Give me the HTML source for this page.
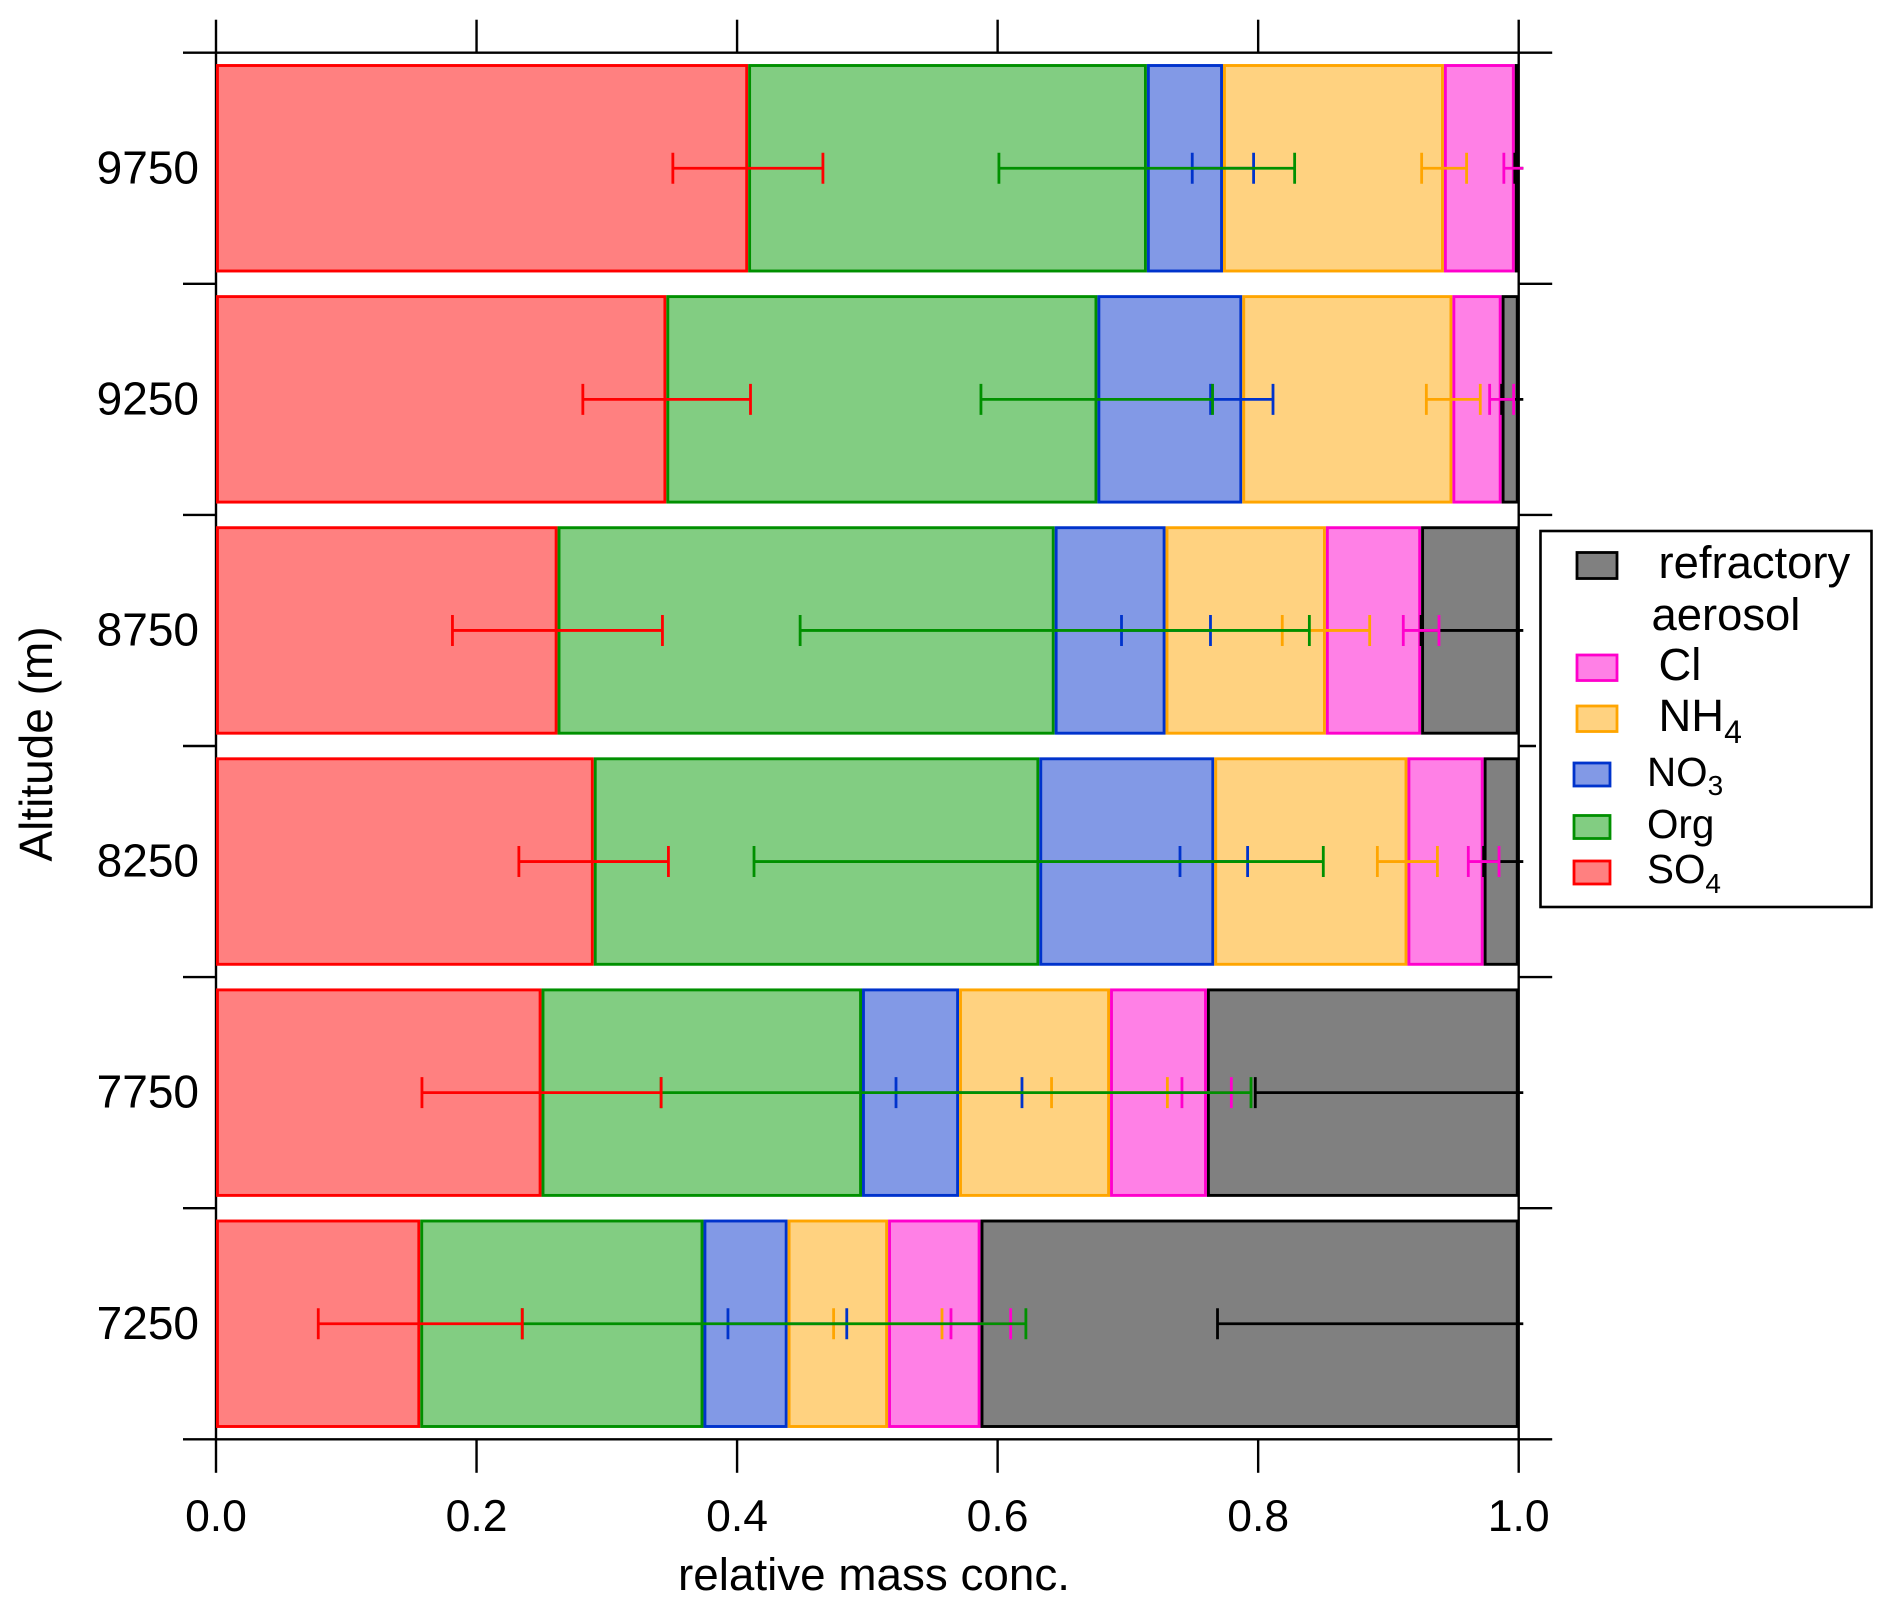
<!DOCTYPE html>
<html lang="en">
<head>
<meta charset="utf-8">
<title>Relative mass concentration by altitude</title>
<style>
html,body{margin:0;padding:0;background:#fff;}
svg{display:block;font-family:"Liberation Sans",Arial,sans-serif;fill:#000;}
text{fill:#000;}
</style>
</head>
<body>
<svg id="chart" xmlns="http://www.w3.org/2000/svg" width="1892" height="1610" viewBox="0 0 1892 1610">
  <defs>
    <clipPath id="plot-clip"><rect x="150" y="0" width="1373.3" height="1610"></rect></clipPath>
  </defs>
  <rect x="0" y="0" width="1892" height="1610" fill="#ffffff"></rect>
  <g id="axes"></g>
  <g id="bars"></g>
  <g id="errors" clip-path="url(#plot-clip)"></g>
  <g id="labels"></g>
  <text x="874" y="1590" font-size="45.8" text-anchor="middle">relative mass conc.</text>
  <text transform="translate(52 744) rotate(-90)" font-size="46" text-anchor="middle">Altitude (m)</text>

  <g>
    <rect x="1536" y="527" width="340" height="384" fill="#ffffff"></rect>
    <rect x="1540.5" y="531" width="331" height="376" fill="#ffffff" stroke="#000" stroke-width="2.6"></rect>
    <g>
      <rect x="1577" y="552.5" width="40" height="26" fill="#808080" stroke="#000" stroke-width="2.8"></rect>
      <text x="1658.5" y="578" font-size="45.4">refractory</text>
      <text x="1651.5" y="630" font-size="45.4">aerosol</text>
    </g>
    <g>
      <rect x="1577" y="655" width="40" height="25.5" fill="#ff80e6" stroke="#ff00cc" stroke-width="2.8"></rect>
      <text x="1658.5" y="680" font-size="45.4">Cl</text>
    </g>
    <g>
      <rect x="1577" y="706" width="40" height="25.5" fill="#ffd280" stroke="#ffa500" stroke-width="2.8"></rect>
      <text x="1658.5" y="731" font-size="45.4">NH<tspan font-size="32" dy="12">4</tspan></text>
    </g>
    <g>
      <rect x="1574" y="763" width="36" height="23" fill="#8299e6" stroke="#0033cc" stroke-width="2.8"></rect>
      <text x="1647" y="786" font-size="40.4">NO<tspan font-size="28" dy="9">3</tspan></text>
    </g>
    <g>
      <rect x="1574" y="815.5" width="36" height="23" fill="#82cd82" stroke="#009000" stroke-width="2.8"></rect>
      <text x="1647" y="838" font-size="40.4">Org</text>
    </g>
    <g>
      <rect x="1574" y="861" width="36" height="23" fill="#ff8080" stroke="#ff0000" stroke-width="2.8"></rect>
      <text x="1647" y="883" font-size="40.4">SO<tspan font-size="28" dy="10">4</tspan></text>
    </g>
  </g>
</svg>
<script>
// Categories, top to bottom
const altitudes = ['9750', '9250', '8750', '8250', '7750', '7250'];
const xTickValues = [0, 0.2, 0.4, 0.6, 0.8, 1.0];
const xTickLabels = ['0.0', '0.2', '0.4', '0.6', '0.8', '1.0'];

// Stacked fractions per altitude
const so4 = [0.4085, 0.3457, 0.2622, 0.2900, 0.2499, 0.1568];
const org = [0.3061, 0.3309, 0.3816, 0.3420, 0.2460, 0.2174];
const no3 = [0.0584, 0.1112, 0.0851, 0.1343, 0.0745, 0.0646];
const nh4 = [0.1696, 0.1613, 0.1231, 0.1483, 0.1159, 0.0771];
const cl = [0.0544, 0.0378, 0.0731, 0.0585, 0.0744, 0.0710];
const refractory = [0.0030, 0.0131, 0.0749, 0.0269, 0.2393, 0.4131];

// Error lengths below and above each stack boundary
const so4ErrLow = [0.0578, 0.0641, 0.0807, 0.0575, 0.0918, 0.0783];
const so4ErrHigh = [0.0574, 0.0646, 0.0805, 0.0573, 0.0918, 0.0783];
const orgErrLow = [0.1136, 0.0894, 0.1954, 0.2190, 0.1542, 0.1391];
const orgErrHigh = [0.1134, 0.0884, 0.1955, 0.2180, 0.2986, 0.2475];
const no3ErrLow = [0.0236, 0.0243, 0.0338, 0.0263, 0.0484, 0.0458];
const no3ErrHigh = [0.0235, 0.0236, 0.0345, 0.0256, 0.0483, 0.0454];
const nh4ErrLow = [0.0171, 0.0200, 0.0335, 0.0231, 0.0449, 0.0418];
const nh4ErrHigh = [0.0174, 0.0214, 0.0336, 0.0230, 0.0440, 0.0414];
const clErrLow = [0.0084, 0.0092, 0.0137, 0.0118, 0.0192, 0.0227];
const clErrHigh = [0.0084, 0.0092, 0.0137, 0.0118, 0.0187, 0.0231];
const refractoryErrLow = [0.0030, 0.0131, 0.0749, 0.0269, 0.2022, 0.2312];
const refractoryErrHigh = [0.0060, 0.0131, 0.0749, 0.0269, 0.2022, 0.2312];

const seriesNames = ['so4', 'org', 'no3', 'nh4', 'cl', 'refractory'];
const seriesValues = [so4, org, no3, nh4, cl, refractory];
const seriesErrLow = [so4ErrLow, orgErrLow, no3ErrLow, nh4ErrLow, clErrLow, refractoryErrLow];
const seriesErrHigh = [so4ErrHigh, orgErrHigh, no3ErrHigh, nh4ErrHigh, clErrHigh, refractoryErrHigh];
const seriesFill = ['#ff8080', '#82cd82', '#8299e6', '#ffd280', '#ff80e6', '#808080'];
const seriesStroke = ['#ff0000', '#009000', '#0033cc', '#ffa500', '#ff00cc', '#000000'];

const NS = 'http://www.w3.org/2000/svg';
const plotLeft = 216, plotRight = 1518.7, plotTop = 52.7, plotBottom = 1439.3;
const bandHeight = (plotBottom - plotTop) / altitudes.length;
const barHeight = 205.5, strokeW = 2.9, capHalf = 15.5;

function xScale(v) { return plotLeft + (plotRight - plotLeft) * v; }
function yBandTop(i) { return plotTop + bandHeight * i; }
function yCenter(i) { return yBandTop(i) + bandHeight / 2; }

function mk(tag, attrs, parent) {
  const el = document.createElementNS(NS, tag);
  for (const k in attrs) el.setAttribute(k, attrs[k]);
  parent.appendChild(el);
  return el;
}
function axisLine(x1, y1, x2, y2, name) {
  const l = mk('line', { x1: x1, y1: y1, x2: x2, y2: y2, stroke: '#000', 'stroke-width': 2.4 }, document.getElementById('axes'));
  
  
}

// Frame
axisLine(plotLeft - 33, plotTop, plotRight + 33.5, plotTop, 'top-axis-line');
axisLine(plotLeft - 33, plotBottom, plotRight + 33.5, plotBottom, 'bottom-axis-line');
axisLine(plotLeft, plotTop, plotLeft, plotBottom, 'left-axis-line');
axisLine(plotRight, plotTop, plotRight, plotBottom, 'right-axis-line');

// X ticks
const labelsG = document.getElementById('labels');
xTickValues.forEach(function (v, i) {
  const px = xScale(v);
  axisLine(px, plotTop - 33, px, plotTop, 'x-tick-top-' + xTickLabels[i]);
  axisLine(px, plotBottom, px, plotBottom + 33.5, 'x-tick-bottom-' + xTickLabels[i]);
  const t = mk('text', { x: px, y: 1531, 'font-size': 44.5, 'text-anchor': 'middle' }, labelsG);
  t.textContent = xTickLabels[i];
  
  
});

// Y ticks and labels
for (let i = 1; i < altitudes.length; i++) {
  axisLine(plotLeft - 33, yBandTop(i), plotLeft, yBandTop(i), 'y-tick-left-' + i);
  axisLine(plotRight, yBandTop(i), plotRight + 33.5, yBandTop(i), 'y-tick-right-' + i);
}
altitudes.forEach(function (a, i) {
  const t = mk('text', { x: 199, y: yCenter(i) + 15, 'font-size': 46, 'text-anchor': 'end' }, labelsG);
  t.textContent = a;
  
  
});

// Bars and error bars
const barsG = document.getElementById('bars');
const errorsG = document.getElementById('errors');
const errorGroups = [];
for (let s = seriesNames.length - 1; s >= 0; s--) {
  const g = mk('g', {}, errorsG);
  
  
  errorGroups[s] = g;
}
altitudes.forEach(function (a, i) {
  let cum = 0;
  seriesNames.forEach(function (name, s) {
    const start = cum;
    cum += seriesValues[s][i];
    const x0 = xScale(start), x1 = xScale(cum);
    const r = mk('rect', {
      x: x0 + strokeW / 2,
      y: yCenter(i) - barHeight / 2,
      width: Math.max(0.1, x1 - x0 - strokeW),
      height: barHeight,
      fill: seriesFill[s],
      stroke: seriesStroke[s],
      'stroke-width': strokeW
    }, barsG);
    
    

    const lo = xScale(cum - seriesErrLow[s][i]);
    const hi = xScale(cum + seriesErrHigh[s][i]);
    const cy = yCenter(i);
    const g = errorGroups[s];
    const p = mk('path', {
      d: 'M' + lo + ' ' + (cy - capHalf) + 'V' + (cy + capHalf) +
         'M' + lo + ' ' + cy + 'H' + hi +
         'M' + hi + ' ' + (cy - capHalf) + 'V' + (cy + capHalf),
      fill: 'none',
      stroke: seriesStroke[s],
      'stroke-width': 2.8
    }, g);
    
    
  });
});
</script>
</body>
</html>
